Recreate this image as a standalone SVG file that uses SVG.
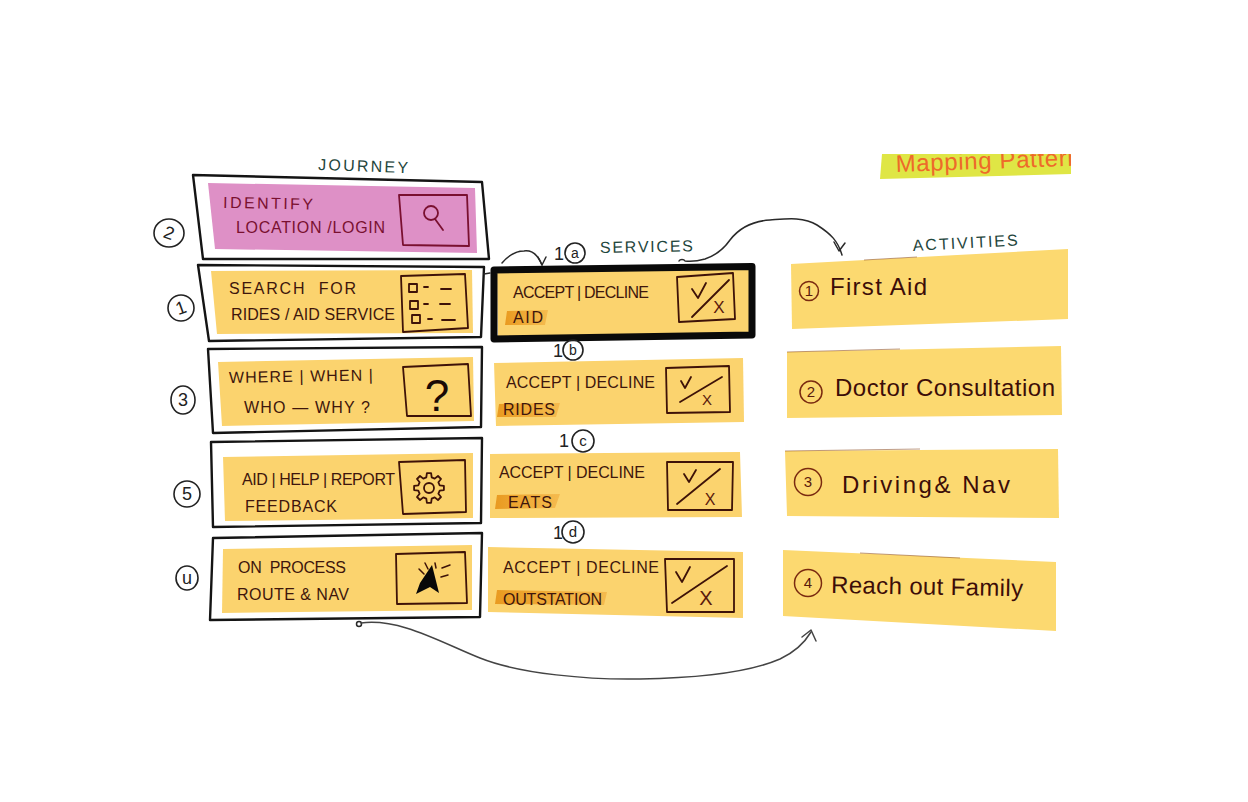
<svg xmlns="http://www.w3.org/2000/svg" width="1248" height="802" viewBox="0 0 1248 802">
<style>
text{font-family:"Liberation Sans",Arial,sans-serif;fill:#3e160c;font-size:16px}
.frame{fill:none;stroke:#141414;stroke-width:2.4;stroke-linejoin:round}
.thick{fill:none;stroke:#0a0a0a;stroke-width:7;stroke-linejoin:round}
.y{fill:#fbd36e}
.a{fill:#fcd970}
.hl{fill:url(#hlg)}
.ico{fill:none;stroke:#3e1208;stroke-width:1.8;stroke-linejoin:round;stroke-linecap:round}
.edge{fill:none;stroke:#8a4a20;stroke-width:1;opacity:.55}
.num{fill:none;stroke:#222;stroke-width:1.6}
.lab{fill:#222;font-size:18px;text-anchor:middle}
.head{fill:#1f463c;font-size:16px}
.big{font-size:24px;fill:#3c0d08}
.cn{fill:none;stroke:#7a2a10;stroke-width:1.5}
.cnt{fill:#5a1a0c;font-size:15px;text-anchor:middle}
.con{fill:none;stroke:#2a2a2a;stroke-width:1.5;stroke-linecap:round;stroke-linejoin:round}
</style>
<defs>
<clipPath id="mapClip"><rect x="870" y="154" width="201" height="30"/></clipPath>
<linearGradient id="hlg"><stop offset="0" stop-color="#e99a20"/><stop offset="1" stop-color="#f2b040" stop-opacity=".7"/></linearGradient>
</defs>

<g id="banner">
<polygon points="882,154 1071,154 1071,174 880,179" fill="#dfe645"/>
<g clip-path="url(#mapClip)"><text x="896" y="172" textLength="185" transform="rotate(-2 896 172)" style="font-size:24px;fill:#ee6a2a">Mapping Pattern</text></g>
</g>

<g id="headings">
<text class="head" x="318" y="170" textLength="90" transform="rotate(2 318 170)">JOURNEY</text>
<text class="head" x="600" y="253" textLength="93" transform="rotate(-1 600 253)">SERVICES</text>
<text class="head" x="913" y="251" textLength="105" transform="rotate(-3 913 251)">ACTIVITIES</text>
</g>

<g id="journey-2">
<polygon class="frame" points="193,175 482,182 489,259 203,259"/>
<polygon points="208,183 475,188 477,253 215,249" fill="#de90c6"/>
<polygon class="ico" style="stroke:#7a1030" points="399,195 467,195 469,246 403,245"/>
<circle class="ico" style="stroke:#7a1030" cx="431" cy="213" r="7"/>
<line class="ico" style="stroke:#7a1030" x1="435" y1="219" x2="443" y2="230"/>
<text x="223" y="208" textLength="90" transform="rotate(1 223 208)" style="fill:#7a1030">IDENTIFY</text>
<text x="236" y="233" textLength="149" style="fill:#7a1030">LOCATION /LOGIN</text>
<ellipse class="num" cx="169" cy="233" rx="15" ry="14"/>
<text class="lab" x="169" y="239" transform="rotate(20 169 233)">2</text>
</g>

<g id="journey-1">
<polygon class="frame" points="198,265 484,267 481,337 209,341"/>
<polygon class="y" points="211,271 472,270 473,333 217,334"/>
<polygon class="ico" points="401,276 465,274 468,328 403,332"/>
<rect class="ico" x="409" y="284" width="8" height="8"/>
<rect class="ico" x="410" y="301" width="8" height="8"/>
<rect class="ico" x="412" y="315" width="8" height="8"/>
<path class="ico" d="M424 287h4M441 289h10M424 304h4M440 304h10M428 319h4M442 320h13"/>
<text x="229" y="294" textLength="127" xml:space="preserve">SEARCH  FOR</text>
<text x="231" y="320" textLength="164">RIDES / AID SERVICE</text>
<ellipse class="num" cx="181" cy="308" rx="13" ry="13"/>
<text class="lab" x="181" y="314" transform="rotate(-20 181 308)">1</text>
</g>

<g id="journey-3">
<polygon class="frame" points="208,349 482,347 481,427 213,433"/>
<polygon class="y" points="218,362 473,357 474,421 222,426"/>
<polygon class="ico" points="403,367 468,364 471,416 407,416"/>
<text x="437" y="411" style="font-size:44px;fill:#1a0a06;text-anchor:middle">?</text>
<text x="229" y="383" textLength="144" transform="rotate(-1 229 383)">WHERE | WHEN |</text>
<text x="244" y="413" textLength="126">WHO — WHY ?</text>
<ellipse class="num" cx="183" cy="400" rx="12" ry="14"/>
<text class="lab" x="183" y="406">3</text>
</g>

<g id="journey-5">
<polygon class="frame" points="211,442 482,438 481,523 213,527"/>
<polygon class="y" points="223,457 473,453 473,518 225,521"/>
<polygon class="ico" points="399,462 465,460 466,512 403,514"/>
<g transform="translate(429,488)">
<polygon class="ico" points="10.7,-2.7 14.9,-2.1 14.9,2.1 10.7,2.7 9.4,5.7 12,9 9,12 5.7,9.4 2.7,10.7 2.1,14.9 -2.1,14.9 -2.7,10.7 -5.7,9.4 -9,12 -12,9 -9.4,5.7 -10.7,2.7 -14.9,2.1 -14.9,-2.1 -10.7,-2.7 -9.4,-5.7 -12,-9 -9,-12 -5.7,-9.4 -2.7,-10.7 -2.1,-14.9 2.1,-14.9 2.7,-10.7 5.7,-9.4 9,-12 12,-9 9.4,-5.7"/>
<circle class="ico" r="5"/>
</g>
<text x="242" y="485" textLength="153">AID | HELP | REPORT</text>
<text x="245" y="512" textLength="92">FEEDBACK</text>
<ellipse class="num" cx="187" cy="494" rx="13" ry="13"/>
<text class="lab" x="187" y="500">5</text>
</g>

<g id="journey-4">
<polygon class="frame" points="213,538 482,533 480,617 210,620"/>
<polygon class="y" points="223,549 472,545 472,610 222,613"/>
<polygon class="ico" points="396,554 465,552 467,603 397,604"/>
<polygon points="432,565 439,593 430,587 416,594 420,583" fill="#080808"/>
<path class="ico" style="stroke-width:1.5" d="M419 569l5 5M425 563l3 6M435 563l1 5M442 568l8-3M441 577l7-2"/>
<text x="238" y="573" textLength="108" xml:space="preserve">ON  PROCESS</text>
<text x="237" y="600" textLength="112">ROUTE &amp; NAV</text>
<ellipse class="num" cx="187" cy="578" rx="11" ry="12"/>
<text class="lab" x="187" y="584">u</text>
</g>

<g id="service-1a">
<polygon class="y" points="497,270 750,267 750,335 498,337"/>
<polygon class="thick" points="494,270 752,266.5 752,335 494,339"/>
<polygon class="hl" points="507,311 548,310 545,325 505,325"/>
<polygon class="ico" points="677,277 733,273 735,319 679,322"/>
<line class="ico" x1="692" y1="317" x2="729" y2="280"/>
<path class="ico" d="M692 289l6 9 8-15"/>
<text class="cnt" x="719" y="313" style="font-size:17px">X</text>
<text x="513" y="298" textLength="136">ACCEPT | DECLINE</text>
<text x="513" y="323" textLength="30">AID</text>
<circle class="num" cx="575" cy="253" r="10"/>
<text class="lab" x="559" y="260">1</text>
<text class="lab" x="575" y="258" style="font-size:14px">a</text>
</g>

<g id="service-1b">
<polygon class="y" points="494,363 743,358 744,422 496,426"/>
<polygon class="hl" points="499,404 560,403 556,417 497,417"/>
<polygon class="ico" points="666,368 729,366 730,412 667,413"/>
<line class="ico" x1="680" y1="402" x2="722" y2="377"/>
<path class="ico" d="M681 381l4 7 6-11"/>
<text class="cnt" x="707" y="405" style="font-size:15px">X</text>
<text x="506" y="388" textLength="149">ACCEPT | DECLINE</text>
<text x="503" y="415" textLength="52">RIDES</text>
<circle class="num" cx="573" cy="350" r="10"/>
<text class="lab" x="558" y="357">1</text>
<text class="lab" x="573" y="355" style="font-size:14px">b</text>
</g>

<g id="service-1c">
<polygon class="y" points="490,454 740,452 742,517 490,518"/>
<polygon class="hl" points="497,495 560,494 555,508 495,509"/>
<polygon class="ico" points="667,462 733,462 732,510 668,510"/>
<line class="ico" x1="677" y1="504" x2="720" y2="469"/>
<path class="ico" d="M684 474l5 8 7-12"/>
<text class="cnt" x="710" y="505" style="font-size:16px">X</text>
<text x="499" y="478" textLength="146">ACCEPT | DECLINE</text>
<text x="508" y="508" textLength="44">EATS</text>
<circle class="num" cx="583" cy="441" r="11"/>
<text class="lab" x="564" y="447">1</text>
<text class="lab" x="583" y="446" style="font-size:15px">c</text>
</g>

<g id="service-1d">
<polygon class="y" points="488,547 743,552 743,618 488,612"/>
<polygon class="hl" points="497,590 607,592 604,605 495,604"/>
<polygon class="ico" points="665,559 734,559 734,612 667,612"/>
<line class="ico" x1="672" y1="603" x2="727" y2="566"/>
<path class="ico" d="M676 572l6 10 8-15"/>
<text class="cnt" x="706" y="605" style="font-size:20px">X</text>
<text x="503" y="573" textLength="156">ACCEPT | DECLINE</text>
<text x="503" y="605" textLength="99">OUTSTATION</text>
<circle class="num" cx="573" cy="532" r="11"/>
<text class="lab" x="558" y="539">1</text>
<text class="lab" x="573" y="537" style="font-size:15px">d</text>
</g>

<g id="activity-1">
<polygon class="a" points="791,264 1068,249 1068,319 792,329"/>
<path class="edge" d="M864 260 917 257"/>
<circle class="cn" cx="809" cy="291" r="9.5"/>
<text class="cnt" x="809" y="296">1</text>
<text class="big" x="830" y="295" textLength="97">First Aid</text>
</g>

<g id="activity-2">
<polygon class="a" points="787,352 1061,346 1062,415 787,418"/>
<path class="edge" d="M787 352 900 349"/>
<circle class="cn" cx="811" cy="392" r="11"/>
<text class="cnt" x="811" y="397">2</text>
<text class="big" x="835" y="396" textLength="220">Doctor Consultation</text>
</g>

<g id="activity-3">
<polygon class="a" points="785,451 1058,449 1059,518 787,516"/>
<path class="edge" d="M785 451 920 449"/>
<circle class="cn" cx="808" cy="482" r="13.5"/>
<text class="cnt" x="808" y="487">3</text>
<text class="big" x="842" y="493" textLength="168" xml:space="preserve">Driving&amp; Nav</text>
</g>

<g id="activity-4">
<polygon class="a" points="783,550 1056,562 1056,631 783,616"/>
<path class="edge" d="M860 553 960 558"/>
<circle class="cn" cx="808" cy="583" r="13.5"/>
<text class="cnt" x="808" y="588">4</text>
<text class="big" x="831" y="593" textLength="192" transform="rotate(1 831 593)">Reach out Family</text>
</g>

<g id="connectors">
<path class="con" d="M679 261c1-2 5-2 6 0 7 1 13 0 20-2 9-3 18-9 25-19 10-13 24-19 40-20 14-1 33-4 47 5 14 9 21 16 25 30"/>
<path class="con" d="M834 242l5 9 6-8"/>
<path class="con" d="M502 263c6-7 14-12 22-12 8-1 14 4 18 14"/>
<path class="con" d="M538 257l4 8 4-8"/>
<path class="con" d="M484 274 490 273"/>
<circle class="con" cx="359" cy="624" r="2.5"/>
<path class="con" style="stroke:#444" d="M361 623C400 618 440 642 480 658C520 674 590 680 640 679C700 678 750 672 780 659C795 652 805 642 811 632"/>
<path class="con" style="stroke:#444" d="M802 637l9-7 5 11"/>
</g>
</svg>
